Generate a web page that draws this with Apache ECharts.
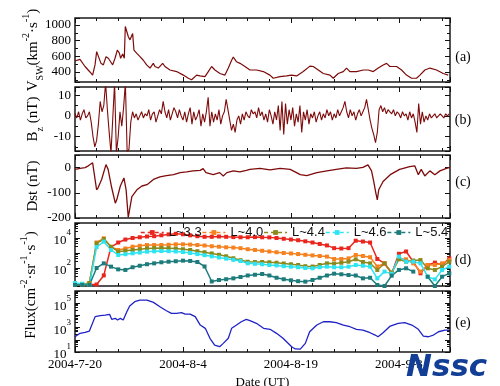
<!DOCTYPE html>
<html>
<head>
<meta charset="utf-8">
<script src="https://cdn.jsdelivr.net/npm/echarts/dist/echarts.min.js"></script>
<style>
  html, body { margin: 0; padding: 0; background: #fff; }
  #chart { width: 500px; height: 386px; }
</style>
</head>
<body>
<div id="chart"></div>
<script>
// x values are days after 2004-07-20 00:00 UT
const dateLabels = ['2004-7-20', '2004-8-4', '2004-8-19', '2004-9-3'];
const dateStep = 15;
const dayMax = 52.1;

// (a) solar wind speed, [day, km/s]
const vsw = [[0,540],[0.69,560],[1.39,470],[2.08,400],[2.45,360],[2.78,490],[3.01,660],[3.24,640],[3.61,510],[3.94,490],
  [4.31,595],[4.63,575],[4.95,530],[5.23,490],[5.56,575],[5.88,680],[6.16,640],[6.34,575],[6.62,630],[6.85,575],
  [6.99,980],[7.18,960],[7.41,850],[7.64,810],[7.87,830],[8.01,890],[8.19,680],[8.56,640],[9.03,595],[9.49,550],
  [9.95,490],[10.42,450],[10.88,510],[11.11,470],[11.57,450],[12.18,510],[12.5,470],[13.19,425],[14.12,405],[15.05,360],
  [15.74,320],[16.2,300],[16.44,310],[16.9,360],[17.36,350],[18.06,340],[18.52,405],[18.98,470],[19.44,425],[20.14,380],
  [20.83,360],[21.3,450],[21.76,550],[21.99,590],[22.45,530],[22.92,510],[23.61,470],[24.31,425],[25.23,425],[26.16,405],
  [27.08,360],[27.55,320],[28.47,340],[29.4,350],[30.09,360],[30.79,350],[31.71,405],[32.64,475],[33.1,470],[33.8,425],
  [34.49,380],[35.42,360],[35.88,320],[36.11,300],[36.57,380],[37.27,405],[37.73,450],[38.19,405],[39.12,405],[40.05,425],
  [40.74,425],[41.44,405],[42.13,450],[42.82,490],[43.29,510],[43.75,470],[44.68,470],[45.37,425],[46.06,360],[46.76,320],
  [47.45,320],[47.92,360],[48.61,425],[49.31,450],[50.23,425],[51.16,380],[51.85,360]];

// (b) IMF Bz (nT), one reading every 6 h from day 0
const bzStep = 0.25;
const bz = [1,-1,2,-2,1,3,-1,0,2,-3,
  -10,-15,-12,-4,7,2,5,16,3,-8,
  -18,-18,16,-18,-10,2,-5,4,16,-18,
  -16,-3,2,-1,1,-2,0,2,-1,1,
  0,3,-2,1,2,-3,0,3,1,7,
  2,-1,3,-2,1,4,2,-1,3,0,
  -2,2,-3,1,4,-4,2,-2,0,3,
  -5,1,-3,2,9,-5,2,-3,1,-2,
  3,-4,0,2,8,3,-2,-7,-4,-8,
  -2,0,-4,1,-2,2,0,-1,3,1,
  2,-1,4,0,2,-2,1,-3,3,0,
  -4,2,-2,5,-7,7,-9,6,-4,3,
  -2,4,-5,1,-3,5,-8,2,-2,3,
  -4,1,-1,2,-3,0,2,-2,1,-1,
  3,0,2,-2,1,-1,3,0,2,4,
  7,2,-1,3,0,2,-2,1,3,0,
  2,4,8,3,-2,-6,-9,-13,-8,3,
  5,2,4,1,3,2,1,3,0,2,
  1,-1,2,0,1,-2,2,-1,1,-3,
  -8,6,-4,2,-3,0,-2,1,-1,0,
  1,-1,0,1,0,-1,1,0,1];

// (c) Dst index (nT), [day, nT]
const dst = [[0,-7],[0.7,-3],[1.4,0],[1.85,7],[2.45,19],[3.0,-88],[3.2,-80],[3.7,-47],[4.3,12],[4.6,-7],
  [5.1,-80],[5.6,-141],[5.8,-128],[6.3,-73],[6.8,-41],[7.1,-88],[7.4,-198],[7.9,-115],[8.6,-88],[9.3,-73],
  [10,-68],[10.9,-47],[11.8,-37],[12.7,-32],[13.7,-28],[14.6,-20],[15.5,-17],[16.4,-13],[17.4,-11],[17.8,-4],
  [18.2,-20],[19.2,-28],[20.1,-20],[20.6,-33],[21.1,-20],[22,-13],[22.9,-17],[23.8,-11],[24.3,-7],[25.7,-3],
  [27.1,-9],[28.5,-3],[29.9,-7],[31.3,-28],[32.2,-32],[33.6,-20],[35,-13],[36.3,-7],[37.7,-1],[39.1,-3],
  [40,1],[40.7,11],[41.2,-13],[41.5,-55],[41.8,-101],[42,-128],[42.2,-88],[42.8,-55],[43.8,-28],[45.1,-7],
  [46.5,4],[47.2,7],[47.7,-28],[48.1,-7],[48.6,-33],[49.3,-13],[50,-28],[50.7,-13],[51.6,-3],[52.1,1]];

// (d) daily electron flux by L shell, day 0..52
const shellNames = ['L~3.3', 'L~4.0', 'L~4.4', 'L~4.6', 'L~5.4'];
const fluxL33 = [7.9,7.9,7.9,7.9,32,2500,5000,7900,10000,11200,12600,13200,15100,17400,19100,17800,15100,13200,12000,12000,
  12600,12000,11500,11200,11200,11500,11200,11000,10000,8900,7900,7100,6000,5000,4000,3200,2100,2000,2100,6600,
  5800,5000,400,200,44,890,1260,263,44,158,229,158,437];
const fluxL40 = [7.9,7.9,10,5000,9550,2500,1585,2000,2630,3020,3390,3390,3390,3550,3800,3800,3630,3390,3160,2820,
  2630,2400,2290,2090,1780,1585,1410,1260,1120,1000,933,851,759,692,631,575,398,398,437,741,
  631,525,126,204,49,437,380,204,57,158,158,204,339];
const fluxL44 = [7.9,7.9,10,4365,8510,2630,1230,1410,1585,1780,2000,2090,2140,2090,2000,1780,1585,1318,1122,933,
  759,603,447,331,263,251,251,240,224,200,178,158,132,126,158,204,200,224,263,380,
  251,204,74,204,49,380,263,316,339,95,74,123,263];
const fluxL46 = [10,8.9,7.4,2510,5750,1585,741,832,955,1070,1230,1290,1350,1320,1260,1150,1000,850,710,600,
  500,420,350,290,204,190,178,158,148,132,123,112,100,95,112,123,112,112,123,158,
  141,123,20.4,57.5,41.7,575,263,263,204,26.3,17.4,74,123];
const fluxL54 = [7.4,7.4,7.4,100,204,123,81,74,112,141,178,204,240,263,282,309,295,251,126,12.6,
  15.8,17.8,20.4,25.1,31.6,35.5,39.8,31.6,22.4,17.8,15.1,13.2,12.3,15.8,22.4,31.6,41.7,38,33.9,31.6,
  20.4,22.4,7.4,6.3,30.9,74,95.5,57.5,null,26.3,6.3,26.3,43.7];

// (e) flux, [day, value]
const fluxE = [[0,178],[0.7,339],[1.4,407],[2.0,525],[2.8,7940],[3.5,9550],[4.2,10700],[4.8,12300],[5.1,4790],[5.6,5750],
  [5.9,4170],[6.3,5750],[6.7,4170],[7.2,20000],[7.6,58900],[8.3,132000],[9.0,182000],[10.0,182000],[10.9,117500],[11.8,51300],
  [12.7,24000],[13.4,14800],[14.1,14800],[14.8,16600],[15.3,12900],[16.0,12900],[16.7,7940],[17.4,1620],[18.1,871],[18.75,132],
  [19.4,37],[20.1,27],[20.6,51],[21.3,132],[21.76,871],[22.45,1620],[23.1,3020],[23.8,4790],[24.3,3720],[25.2,2240],
  [26.2,871],[27.1,724],[28.0,339],[28.9,132],[30.1,27],[30.6,17.8],[31.3,17],[32.0,51],[32.6,457],[33.6,1620],
  [34.5,3020],[35.4,3020],[36.3,2510],[37.3,1620],[38.2,1175],[39.1,724],[40.0,631],[41.0,380],[41.7,245],[42.1,178],
  [42.8,380],[43.8,1350],[44.9,2240],[45.8,2510],[46.8,1620],[47.7,724],[48.4,204],[49.1,178],[49.8,245],[50.5,457],
  [51.4,631],[52.0,631]];

const vswLabels = [400, 600, 800, 1000];
const bzLabels = [-10, 0, 10];
const dstLabels = [-200, -100, 0];
const fluxDLabelExp = [2, 4];
const fluxELabelExp = [1, 3, 5];
const panelTags = ['(a)', '(b)', '(c)', '(d)', '(e)'];

const SERIF = '"Liberation Serif", "Times New Roman", serif';
const INK = '#111';
const MAROON = '#7e0b0b';
const shellColors = ['#e8261e', '#f5821f', '#8a8a1c', '#2ee4f2', '#1d7b7b'];

const panels = [
  {top: 18, height: 64},
  {top: 87, height: 64},
  {top: 155, height: 63},
  {top: 223, height: 63},
  {top: 291, height: 61}
];

const tickStyle = {color: INK, width: 1};

function xAxesFor(g, labelled) {
  const common = {
    gridIndex: g, type: 'value', min: 0, max: dayMax,
    axisLine: {show: false, onZero: false}, splitLine: {show: false}
  };
  const major = Object.assign({}, common, {interval: dateStep, axisTick: {inside: true, length: 5, lineStyle: tickStyle}});
  const minor = Object.assign({}, common, {interval: 3, axisTick: {inside: true, length: 3, lineStyle: tickStyle}, axisLabel: {show: false}});
  const bottom = Object.assign({}, major, {position: 'bottom'});
  if (labelled) {
    bottom.axisLabel = {
      show: true, margin: 6, color: '#000', fontFamily: SERIF, fontSize: 13,
      formatter: v => (v % dateStep === 0 && dateLabels[v / dateStep]) || ''
    };
    bottom.name = 'Date (UT)';
    bottom.nameLocation = 'middle';
    bottom.nameGap = 24;
    bottom.nameTextStyle = {color: '#000', fontFamily: SERIF, fontSize: 13};
  } else {
    bottom.axisLabel = {show: false};
  }
  return [
    bottom,
    Object.assign({}, major, {position: 'top', axisLabel: {show: false}}),
    Object.assign({}, minor, {position: 'bottom'}),
    Object.assign({}, minor, {position: 'top'})
  ];
}

function linearYAxes(g, min, max, majorSplit, minorSplit, labels) {
  const common = {
    gridIndex: g, type: 'value', min: min, max: max,
    axisLine: {show: false, onZero: false}, splitLine: {show: false}
  };
  const major = Object.assign({}, common, {splitNumber: majorSplit, axisTick: {inside: true, length: 5, lineStyle: tickStyle}});
  const minor = Object.assign({}, common, {splitNumber: minorSplit, axisTick: {inside: true, length: 3, lineStyle: tickStyle}, axisLabel: {show: false}});
  return [
    Object.assign({}, major, {position: 'left', axisLabel: {
      margin: 4, color: '#000', fontFamily: SERIF, fontSize: 13,
      formatter: v => labels.indexOf(v) >= 0 ? String(v) : ''
    }}),
    Object.assign({}, major, {position: 'right', axisLabel: {show: false}}),
    Object.assign({}, minor, {position: 'left'}),
    Object.assign({}, minor, {position: 'right'})
  ];
}

const supRich = {
  b: {fontFamily: SERIF, fontSize: 13, lineHeight: 13, verticalAlign: 'bottom', color: '#000'},
  sup: {fontFamily: SERIF, fontSize: 9, lineHeight: 9, verticalAlign: 'top', color: '#000'},
  pad: {lineHeight: 19}
};

function logYAxes(g, min, max, labelExp) {
  const common = {
    gridIndex: g, type: 'log', logBase: 10, min: min, max: max,
    axisLine: {show: false, onZero: false}, splitLine: {show: false},
    axisTick: {inside: true, length: 5, lineStyle: tickStyle},
    minorTick: {show: true, splitNumber: 5, length: 3, lineStyle: tickStyle}
  };
  return [
    Object.assign({}, common, {position: 'left', axisLabel: {
      margin: 4, rich: supRich,
      formatter: v => {
        const e = Math.round(Math.log10(v));
        if (Math.abs(Math.log10(v) - e) > 1e-6 || labelExp.indexOf(e) < 0) return '';
        return '{pad|}{b|10}{sup|' + e + '}';
      }
    }}),
    Object.assign({}, common, {position: 'right', axisLabel: {show: false}}),
    Object.assign({}, common, {position: 'left', show: false}),
    Object.assign({}, common, {position: 'right', show: false})
  ];
}

const xAxis = [].concat(
  xAxesFor(0, false), xAxesFor(1, false), xAxesFor(2, false), xAxesFor(3, false), xAxesFor(4, true)
);
const yAxis = [].concat(
  linearYAxes(0, 272, 1089, 4, 8, vswLabels),
  linearYAxes(1, -17, 14, 3, 6, bzLabels),
  linearYAxes(2, -200, 50, 2, 5, dstLabels),
  logYAxes(3, 6.3, 100000, fluxDLabelExp),
  logYAxes(4, 10, 1000000, fluxELabelExp)
);

function onGrid(g) {
  return {xAxisIndex: g * 4, yAxisIndex: g * 4};
}

const series = [
  Object.assign({type: 'line', name: 'Vsw', data: vsw, showSymbol: false,
    lineStyle: {color: MAROON, width: 1.2}, itemStyle: {color: MAROON}}, onGrid(0)),
  Object.assign({type: 'line', name: 'Bz', data: bz.map((v, i) => [i * bzStep, v]), showSymbol: false,
    lineStyle: {color: MAROON, width: 1.1}, itemStyle: {color: MAROON}}, onGrid(1)),
  Object.assign({type: 'line', name: 'Dst', data: dst, showSymbol: false,
    lineStyle: {color: MAROON, width: 1.3}, itemStyle: {color: MAROON}}, onGrid(2))
];
[fluxL33, fluxL40, fluxL44, fluxL46, fluxL54].forEach((arr, k) => {
  series.push(Object.assign({
    type: 'line', name: shellNames[k], data: arr.map((v, i) => [i, v]),
    symbol: 'rect', symbolSize: 4, showSymbol: true, connectNulls: false,
    lineStyle: {color: shellColors[k], width: 1.5}, itemStyle: {color: shellColors[k]}
  }, onGrid(3)));
});
series.push(Object.assign({type: 'line', name: 'Flux', data: fluxE, showSymbol: false,
  lineStyle: {color: '#1f22c4', width: 1.3}, itemStyle: {color: '#1f22c4'}}, onGrid(4)));

const titleRich = {
  t: {fontFamily: SERIF, fontSize: 15, lineHeight: 15, verticalAlign: 'middle', color: '#000'},
  sup: {fontFamily: SERIF, fontSize: 10, lineHeight: 10, verticalAlign: 'top', color: '#000'},
  sub: {fontFamily: SERIF, fontSize: 10, lineHeight: 10, verticalAlign: 'bottom', color: '#000'},
  pad: {lineHeight: 24}
};
function axisTitle(text, x, y) {
  return {
    type: 'text', x: x, y: y, rotation: Math.PI / 2,
    style: {text: text, rich: titleRich, align: 'center', verticalAlign: 'middle'}
  };
}

const tagY = [57, 120, 182, 260, 323];
const graphic = [
  axisTitle('{pad|}{t|V}{sub|SW}{t|(km}{sup|-2}{t|·s}{sup|-1}{t|)}', 33, 50),
  axisTitle('{pad|}{t|B}{sub|z}{t| (nT)}', 33, 119),
  axisTitle('{pad|}{t|Dst (nT)}', 33, 186),
  axisTitle('{pad|}{t|Flux(cm}{sup|-2}{t|·sr}{sup|-1}{t|·s}{sup|-1}{t|)}', 31, 285)
].concat(panelTags.map((tag, i) => ({
  type: 'text', x: 463, y: tagY[i],
  style: {text: tag, fill: '#000', font: '14px ' + SERIF, align: 'center', verticalAlign: 'middle'}
}))).concat([{
  type: 'text', x: 406, y: 352, z: 100,
  style: {text: 'Nssc', fill: '#123e96', font: 'italic 900 31px "DejaVu Sans", sans-serif'}
}]);

const option = {
  backgroundColor: '#fff',
  animation: false,
  grid: panels.map(p => ({
    left: 75, right: 50, top: p.top, height: p.height,
    show: true, borderColor: '#1a1a1a', borderWidth: 1.5, backgroundColor: 'transparent',
    containLabel: false, outerBoundsMode: 'none'
  })),
  legend: {
    data: shellNames, left: 140, top: 226, padding: 0,
    itemWidth: 23, itemHeight: 6, itemGap: 0,
    lineStyle: {type: [4, 3], width: 1.5},
    textStyle: {fontFamily: '"Liberation Sans", Arial, sans-serif', fontSize: 13, color: '#111'}
  },
  xAxis: xAxis,
  yAxis: yAxis,
  series: series,
  graphic: graphic
};

const chart = echarts.init(document.getElementById('chart'));
chart.setOption(option);
</script>
</body>
</html>
